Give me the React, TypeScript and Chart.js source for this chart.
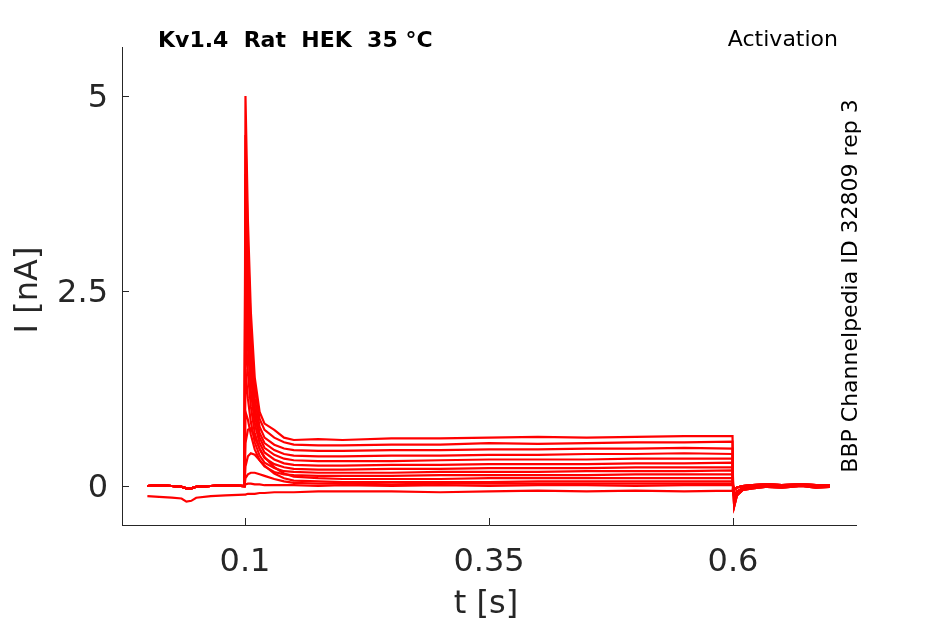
import { useEffect, useRef } from "react";
import { Chart, registerables } from "chart.js";
Chart.register(...registerables);

// ---- time bases (s) ----
const PRE_T = [0, 0.012, 0.025, 0.035, 0.04, 0.045, 0.05, 0.065, 0.08, 0.0995];
const STEP_T = [0.1005, 0.103, 0.106, 0.11, 0.115, 0.12, 0.13, 0.14, 0.15, 0.175, 0.2, 0.25, 0.3, 0.35, 0.4, 0.45, 0.5, 0.55, 0.5995];
const POST_T = [0.6, 0.6012, 0.604, 0.61, 0.62, 0.635, 0.65, 0.67, 0.685, 0.699];

// ---- holding-period currents (nA) ----
const BASE_PRE = [0.0, 0.01, 0.0, -0.01, -0.03, -0.03, -0.01, 0.0, 0.01, 0.0];
const LOW_PRE = [-0.13, -0.14, -0.15, -0.16, -0.2, -0.19, -0.15, -0.13, -0.12, -0.11];

// ---- test-pulse currents (nA) ----
const TRACE_1 = [5.0, 3.4, 2.23, 1.39, 0.95, 0.8, 0.72, 0.62, 0.59, 0.6, 0.59, 0.61, 0.61, 0.62, 0.63, 0.62, 0.63, 0.64, 0.64];
const TRACE_2 = [4.5, 3.08, 2.02, 1.25, 0.86, 0.72, 0.62, 0.56, 0.53, 0.52, 0.52, 0.53, 0.53, 0.55, 0.54, 0.55, 0.56, 0.56, 0.57];
const TRACE_3 = [4.0, 2.75, 1.8, 1.12, 0.76, 0.62, 0.53, 0.48, 0.46, 0.45, 0.45, 0.46, 0.46, 0.47, 0.47, 0.48, 0.48, 0.49, 0.48];
const TRACE_4 = [3.5, 2.42, 1.6, 1.0, 0.68, 0.55, 0.46, 0.41, 0.39, 0.38, 0.38, 0.39, 0.39, 0.4, 0.4, 0.41, 0.41, 0.42, 0.41];
const TRACE_5 = [3.0, 2.1, 1.42, 0.9, 0.62, 0.49, 0.4, 0.35, 0.33, 0.32, 0.32, 0.32, 0.33, 0.34, 0.34, 0.34, 0.35, 0.35, 0.35];
const TRACE_6 = [2.5, 1.78, 1.22, 0.8, 0.55, 0.43, 0.34, 0.29, 0.27, 0.26, 0.26, 0.27, 0.27, 0.28, 0.28, 0.28, 0.29, 0.29, 0.3];
const TRACE_7 = [2.0, 1.45, 1.02, 0.68, 0.47, 0.36, 0.28, 0.24, 0.22, 0.21, 0.21, 0.22, 0.22, 0.23, 0.23, 0.23, 0.24, 0.24, 0.24];
const TRACE_8 = [1.5, 1.12, 0.82, 0.56, 0.39, 0.3, 0.23, 0.19, 0.18, 0.17, 0.17, 0.17, 0.18, 0.18, 0.18, 0.19, 0.19, 0.19, 0.2];
const TRACE_9 = [0.95, 0.85, 0.66, 0.47, 0.33, 0.25, 0.18, 0.15, 0.14, 0.13, 0.13, 0.13, 0.14, 0.14, 0.14, 0.14, 0.15, 0.15, 0.15];
const TRACE_10 = [0.55, 0.72, 0.74, 0.62, 0.48, 0.37, 0.24, 0.16, 0.12, 0.1, 0.09, 0.09, 0.09, 0.1, 0.1, 0.1, 0.1, 0.1, 0.1];
const TRACE_11 = [0.25, 0.38, 0.42, 0.4, 0.33, 0.26, 0.16, 0.1, 0.07, 0.06, 0.05, 0.05, 0.05, 0.05, 0.06, 0.06, 0.06, 0.06, 0.06];
const TRACE_12 = [0.1, 0.15, 0.17, 0.17, 0.15, 0.13, 0.09, 0.06, 0.04, 0.03, 0.03, 0.02, 0.03, 0.03, 0.03, 0.03, 0.03, 0.03, 0.03];
const TRACE_13 = [0.02, 0.03, 0.03, 0.02, 0.02, 0.01, 0.01, 0.01, 0.01, 0.0, 0.01, 0.0, 0.01, 0.0, 0.01, 0.01, 0.0, 0.01, 0.01];
const TRACE_14 = [-0.11, -0.1, -0.1, -0.1, -0.09, -0.09, -0.08, -0.08, -0.08, -0.07, -0.07, -0.07, -0.08, -0.07, -0.06, -0.07, -0.06, -0.07, -0.06];

// ---- tail currents after the pulse (nA) ----
const POST_A = [0.02, -0.26, -0.12, -0.05, -0.03, -0.01, -0.02, 0.0, -0.02, -0.01];
const POST_B = [0.0, -0.15, -0.07, -0.03, -0.01, 0.0, -0.01, 0.01, 0.0, -0.01];
const POST_C = [0.0, -0.05, -0.02, 0.0, 0.01, 0.02, 0.01, 0.02, 0.01, 0.01];

const X_TICKS = [0.1, 0.35, 0.6];
const Y_TICKS = [0, 2.5, 5];

const TRACES = [
  { pre: BASE_PRE, step: TRACE_1, post: POST_A },
  { pre: BASE_PRE, step: TRACE_2, post: POST_A },
  { pre: BASE_PRE, step: TRACE_3, post: POST_A },
  { pre: BASE_PRE, step: TRACE_4, post: POST_B },
  { pre: BASE_PRE, step: TRACE_5, post: POST_B },
  { pre: BASE_PRE, step: TRACE_6, post: POST_B },
  { pre: BASE_PRE, step: TRACE_7, post: POST_B },
  { pre: BASE_PRE, step: TRACE_8, post: POST_C },
  { pre: BASE_PRE, step: TRACE_9, post: POST_C },
  { pre: BASE_PRE, step: TRACE_10, post: POST_C },
  { pre: BASE_PRE, step: TRACE_11, post: POST_C },
  { pre: BASE_PRE, step: TRACE_12, post: POST_C },
  { pre: BASE_PRE, step: TRACE_13, post: POST_C },
  { pre: LOW_PRE, step: TRACE_14, post: POST_B },
];

const FONT = "'DejaVu Sans', sans-serif";
const AXIS_COLOR = "#262626";

function buildPoints(tr: { pre: number[]; step: number[]; post: number[] }) {
  const pts: { x: number; y: number }[] = [];
  PRE_T.forEach((t, i) => pts.push({ x: t, y: tr.pre[i] }));
  STEP_T.forEach((t, i) => pts.push({ x: t, y: tr.step[i] }));
  POST_T.forEach((t, i) => pts.push({ x: t, y: tr.post[i] }));
  return pts;
}

const decorPlugin = {
  id: "decor",
  afterDraw(chart: any) {
    const { ctx, chartArea } = chart;
    const xs = chart.scales.x;
    const ys = chart.scales.y;
    ctx.save();
    ctx.strokeStyle = AXIS_COLOR;
    ctx.lineWidth = 1;
    ctx.beginPath();
    X_TICKS.forEach((v) => {
      const px = Math.round(xs.getPixelForValue(v)) + 0.5;
      ctx.moveTo(px, chartArea.bottom);
      ctx.lineTo(px, chartArea.bottom - 7);
    });
    Y_TICKS.forEach((v) => {
      const py = Math.round(ys.getPixelForValue(v)) + 0.5;
      ctx.moveTo(chartArea.left, py);
      ctx.lineTo(chartArea.left + 7, py);
    });
    ctx.stroke();

    // title
    ctx.fillStyle = "#000";
    ctx.font = `bold 22px ${FONT}`;
    ctx.textAlign = "left";
    ctx.textBaseline = "alphabetic";
    ctx.fillText("Kv1.4  Rat  HEK  35 °C", 158, 47);
    ctx.font = `22px ${FONT}`;
    ctx.textAlign = "right";
    ctx.fillText("Activation", 838, 46);

    // axis titles
    ctx.fillStyle = AXIS_COLOR;
    ctx.font = `32px ${FONT}`;
    ctx.textAlign = "center";
    ctx.textBaseline = "alphabetic";
    ctx.fillText("t [s]", 486, 613);
    ctx.save();
    ctx.translate(37, 290);
    ctx.rotate(-Math.PI / 2);
    ctx.fillText("I [nA]", 0, 0);
    ctx.restore();

    // right side label
    ctx.fillStyle = "#000";
    ctx.font = `22px ${FONT}`;
    ctx.save();
    ctx.translate(857, 286);
    ctx.rotate(-Math.PI / 2);
    ctx.textAlign = "center";
    ctx.fillText("BBP Channelpedia ID 32809 rep 3", 0, 0);
    ctx.restore();
    ctx.restore();
  },
};

export default function App() {
  const ref = useRef<HTMLCanvasElement | null>(null);
  useEffect(() => {
    if (!ref.current) return;
    const chart = new Chart(ref.current, {
      type: "line",
      data: {
        datasets: TRACES.map((tr) => ({
          data: buildPoints(tr),
          borderColor: "#ff0000",
          borderWidth: 2.2,
          pointRadius: 0,
          tension: 0,
          fill: false,
        })),
      },
      options: {
        animation: false,
        responsive: true,
        maintainAspectRatio: false,
        parsing: false as any,
        layout: { padding: { left: 0, top: 47, right: 89, bottom: 0 } },
        plugins: { legend: { display: false }, tooltip: { enabled: false }, title: { display: false } },
        scales: {
          x: {
            type: "linear",
            min: -0.026,
            max: 0.726,
            afterBuildTicks: (s: any) => {
              s.ticks = X_TICKS.map((v) => ({ value: v }));
            },
            afterFit: (s: any) => {
              s.height = 99;
            },
            grid: { display: false, drawTicks: false },
            border: { display: true, color: AXIS_COLOR, width: 1 },
            ticks: {
              color: AXIS_COLOR,
              font: { family: FONT, size: 32 },
              padding: 18,
              maxRotation: 0,
              autoSkip: false,
              callback: (v: any) => String(v),
            },
          },
          y: {
            type: "linear",
            min: -0.5,
            max: 5.628,
            afterBuildTicks: (s: any) => {
              s.ticks = Y_TICKS.map((v) => ({ value: v }));
            },
            afterFit: (s: any) => {
              s.width = 122;
            },
            grid: { display: false, drawTicks: false },
            border: { display: true, color: AXIS_COLOR, width: 1 },
            ticks: {
              color: AXIS_COLOR,
              font: { family: FONT, size: 32 },
              padding: 14,
              labelOffset: 3,
              autoSkip: false,
              callback: (v: any) => String(v),
            },
          },
        },
      },
      plugins: [decorPlugin],
    });
    return () => chart.destroy();
  }, []);
  return (
    <div style={{ position: "fixed", left: 0, top: 0, width: 945, height: 624, background: "#fff" }}>
      <canvas ref={ref} />
    </div>
  );
}
